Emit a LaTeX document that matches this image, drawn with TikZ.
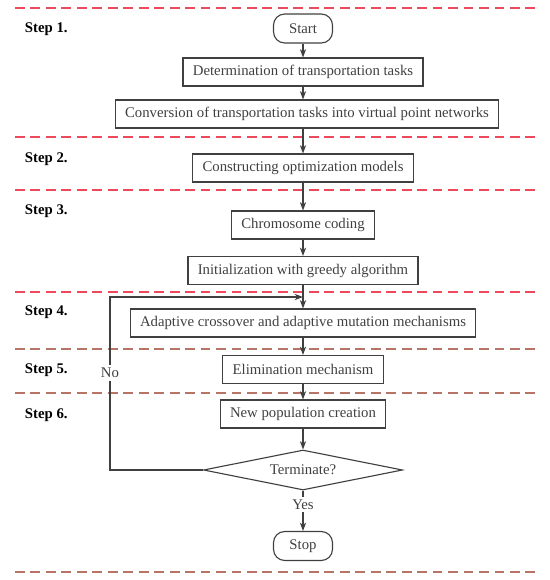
\documentclass[tikz,border=0pt]{standalone}
\usepackage{fontspec}
\setmainfont{Liberation Serif}
\usetikzlibrary{arrows.meta,shapes.geometric}
\definecolor{linegray}{HTML}{404040}
\definecolor{sepred}{HTML}{EC4A5A}
\definecolor{sepbrown}{HTML}{B87466}
\begin{document}
\begin{tikzpicture}[
        x=0.025cm, y=-0.025cm,
        font=\fontsize{10.5}{12}\selectfont,
        process/.style={draw=linegray, thick, text=linegray, minimum height=0.7cm, inner xsep=7pt},
        terminal/.style={draw=linegray, thick, text=linegray, rounded corners=8pt, minimum height=0.725cm, minimum width=1.475cm},
        decision/.style={draw=linegray, thick, text=linegray, diamond, aspect=5, inner sep=1pt, minimum width=4.975cm, minimum height=1cm},
        steplabel/.style={anchor=west, font=\fontsize{10.5}{12}\selectfont\bfseries},
        separator/.style={thick, dash pattern=on 7pt off 4pt},
        flow/.style={-{Stealth[length=6pt,width=4.5pt]}, thick, linegray},
        answer/.style={fill=white, text=linegray, inner sep=2pt}
    ]
        \useasboundingbox (0,0) rectangle (550,580);

        % Step separators
        \foreach \y in {8,137,190,292}
            \draw[separator, sepred] (15,\y) -- (537,\y);
        \foreach \y in {349,393,572}
            \draw[separator, sepbrown] (15,\y) -- (537,\y);

        % Step labels
        \node[steplabel] (s1) at (20,29) {Step 1.};
        \node[steplabel] (s2) at (20,159) {Step 2.};
        \node[steplabel] (s3) at (20,211) {Step 3.};
        \node[steplabel] (s4) at (20,312) {Step 4.};
        \node[steplabel] (s5) at (20,370) {Step 5.};
        \node[steplabel] (s6) at (20,415) {Step 6.};

        % Flow nodes
        \node[terminal] (start) at (303,28.5) {Start};
        \node[process] (determ) at (303,72) {Determination of transportation tasks};
        \node[process] (convert) at (307,114) {Conversion of transportation tasks into virtual point networks};
        \node[process] (model) at (303,168) {Constructing optimization models};
        \node[process] (coding) at (303,225) {Chromosome coding};
        \node[process] (init) at (303,270.5) {Initialization with greedy algorithm};
        \node[process] (adapt) at (303,323) {Adaptive crossover and adaptive mutation mechanisms};
        \node[process] (elim) at (303,369.5) {Elimination mechanism};
        \node[process] (newpop) at (303,414) {New population creation};
        \node[decision] (term) at (303,470) {Terminate?};
        \node[terminal] (stop) at (303,546) {Stop};
        \coordinate (loopin) at (303,297);

        % Connectors
        \draw[flow] (start) -- (determ);
        \draw[flow] (determ) -- (determ |- convert.north);
        \draw[flow] (determ |- convert.south) -- (model);
        \draw[flow] (model) -- (coding);
        \draw[flow] (coding) -- (init);
        \draw[flow] (init) -- (adapt);
        \draw[flow] (adapt) -- (elim);
        \draw[flow] (elim) -- (newpop);
        \draw[flow] (newpop) -- (term);
        \draw[flow] (term) -- node[answer, pos=0.35] (yes) {Yes} (stop);
        \draw[flow] (term.west) -| (110,297) node[answer, pos=0.78] (no) {No} -- (loopin);
    \end{tikzpicture}
\end{document}
